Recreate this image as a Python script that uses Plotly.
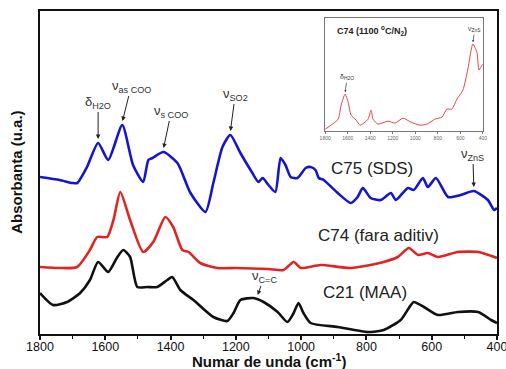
import plotly.graph_objects as go

# ---------------- data ----------------
# main panel: wavenumber (cm-1) and absorbance (a.u., offset)
wn_c75 = [1800, 1740, 1700, 1686, 1656, 1622, 1591, 1548, 1515, 1484, 1468, 1455, 1422, 1379,
          1339, 1293, 1269, 1241, 1217, 1186, 1155, 1131, 1118, 1100, 1079, 1063, 1048, 1032,
          1011, 986, 971, 956, 946, 931, 888, 848, 827, 811, 787, 756, 725, 710, 673, 655,
          627, 612, 587, 550, 511, 471, 428, 409, 400]
ab_c75 = [1.57, 1.54, 1.51, 1.51, 1.67, 1.91, 1.74, 2.09, 1.69, 1.52, 1.74, 1.76, 1.82, 1.71,
          1.41, 1.22, 1.51, 1.87, 1.99, 1.81, 1.64, 1.52, 1.56, 1.49, 1.42, 1.76, 1.69, 1.57,
          1.56, 1.66, 1.67, 1.64, 1.56, 1.54, 1.41, 1.31, 1.37, 1.46, 1.36, 1.34, 1.41, 1.34,
          1.46, 1.44, 1.56, 1.47, 1.56, 1.37, 1.39, 1.43, 1.34, 1.24, 1.26]

wn_c74 = [1800, 1740, 1686, 1647, 1625, 1594, 1575, 1554, 1524, 1484, 1453, 1416, 1392, 1364,
          1345, 1309, 1257, 1200, 1100, 1054, 1023, 1001, 940, 848, 747, 704, 670, 642, 612,
          581, 520, 458, 400]
ab_c74 = [0.67, 0.66, 0.67, 0.84, 0.97, 0.97, 1.14, 1.42, 1.14, 0.82, 0.92, 1.17, 1.07, 0.84,
          0.82, 0.71, 0.66, 0.66, 0.65, 0.64, 0.72, 0.66, 0.69, 0.66, 0.72, 0.77, 0.86, 0.79,
          0.81, 0.77, 0.82, 0.82, 0.76]

wn_c21 = [1800, 1760, 1717, 1677, 1647, 1622, 1591, 1563, 1545, 1524, 1502, 1472, 1441, 1410,
          1395, 1370, 1330, 1269, 1226, 1207, 1186, 1146, 1115, 1072, 1042, 1023, 1008, 993,
          971, 888, 796, 747, 695, 670, 655, 624, 581, 520, 458, 418, 400]
ab_c21 = [0.41, 0.29, 0.32, 0.41, 0.54, 0.72, 0.62, 0.77, 0.84, 0.77, 0.47, 0.47, 0.47, 0.54,
          0.57, 0.44, 0.34, 0.17, 0.13, 0.21, 0.34, 0.36, 0.32, 0.22, 0.12, 0.21, 0.31, 0.21,
          0.11, 0.07, 0.02, 0.04, 0.14, 0.26, 0.32, 0.27, 0.19, 0.22, 0.22, 0.14, 0.11]

# inset: C74 after 1100 C / N2
wn_ins = [1800, 1747, 1685, 1658, 1623, 1596, 1570, 1525, 1490, 1446, 1419, 1392, 1375, 1330,
          1242, 1180, 1109, 1038, 958, 896, 825, 763, 719, 675, 630, 577, 533, 489, 453, 435,
          418, 400]
ab_ins = [0.2, 0.6, 1.2, 2.6, 3.7, 2.9, 1.6, 1.1, 0.6, 0.9, 1.2, 2.1, 1.2, 0.7,
          1.0, 0.8, 1.3, 0.9, 0.6, 0.7, 1.2, 1.4, 2.2, 2.2, 3.2, 4.1, 6.2, 8.7, 7.9, 6.1,
          6.4, 6.7]

x_ticks = [1800, 1600, 1400, 1200, 1000, 800, 600, 400]
curve_names = ["C75 (SDS)", "C74 (fara aditiv)", "C21 (MAA)"]

# ---------------- figure ----------------
FONT = "Liberation Sans, Arial, sans-serif"
fig = go.Figure()

for wn, ab, col, nm in [(wn_c75, ab_c75, "#1515d0", curve_names[0]),
                        (wn_c74, ab_c74, "#e02424", curve_names[1]),
                        (wn_c21, ab_c21, "#111111", curve_names[2])]:
    fig.add_trace(go.Scatter(x=wn, y=ab, mode="lines", name=nm,
                             line=dict(color=col, width=2.6, shape="spline", smoothing=0.6),
                             xaxis="x", yaxis="y", showlegend=False))

fig.add_trace(go.Scatter(x=wn_ins, y=ab_ins, mode="lines",
                         line=dict(color="#e04848", width=1, shape="spline", smoothing=0.6),
                         xaxis="x2", yaxis="y2", showlegend=False))

ann = []
# peak assignments (arrows) in main panel
def arrow(x, y, text, ay, ax=0, size=13):
    ann.append(dict(x=x, y=y, xref="x", yref="y", text=text, showarrow=True,
                    arrowhead=2, arrowsize=0.9, arrowwidth=1, arrowcolor="#222",
                    ax=ax, ay=ay, standoff=1,
                    font=dict(family=FONT, size=size, color="#333")))

arrow(1622, 1.94, "δ<sub>H2O</sub>", -38)
arrow(1548, 2.12, "ν<sub>as COO</sub>", -36, ax=9)
arrow(1422, 1.85, "ν<sub>s COO</sub>", -38, ax=8)
arrow(1217, 2.02, "ν<sub>SO2</sub>", -38, ax=5)
arrow(471, 1.46, "ν<sub>ZnS</sub>", -34, ax=-1)
arrow(1134, 0.38, "ν<sub>C=C</sub>", -20, ax=7)

# curve labels
for x, y, t in [(784, 1.66, curve_names[0]), (762, 0.99, curve_names[1]), (805, 0.42, curve_names[2])]:
    ann.append(dict(x=x, y=y, xref="x", yref="y", text=t, showarrow=False,
                    font=dict(family=FONT, size=17, color="#222")))

# inset title and arrows
ann.append(dict(x=0.646, y=0.941, xref="paper", yref="paper", xanchor="left", yanchor="middle",
                text="<b>C74 (1100 <sup>o</sup>C/N<sub>2</sub>)</b>", showarrow=False,
                font=dict(family=FONT, size=9, color="#222")))
for x, y, t, ay in [(1623, 3.8, "δ<sub>H2O</sub>", -16), (489, 8.8, "ν<sub>ZnS</sub>", -14)]:
    ann.append(dict(x=x, y=y, xref="x2", yref="y2", text=t, showarrow=True,
                    arrowhead=2, arrowsize=0.6, arrowwidth=0.7, arrowcolor="#333",
                    ax=2, ay=ay, standoff=1, font=dict(family=FONT, size=7, color="#333")))

# axis titles
ann.append(dict(x=0.502, y=-0.083, xref="paper", yref="paper", xanchor="center", yanchor="middle",
                text="<b>Numar de unda (cm<sup>-1</sup>)</b>", showarrow=False,
                font=dict(family=FONT, size=15, color="#111")))
ann.append(dict(x=-0.052, y=0.5, xref="paper", yref="paper", xanchor="center", yanchor="middle",
                text="<b>Absorbanta (u.a.)</b>", showarrow=False, textangle=-90,
                font=dict(family=FONT, size=15, color="#111")))

fig.update_layout(
    width=506, height=369,
    margin=dict(l=40, r=9, t=11, b=35),
    paper_bgcolor="white", plot_bgcolor="white",
    font=dict(family=FONT, color="#111"),
    annotations=ann,
    xaxis=dict(domain=[0, 1], range=[1800, 400], tickvals=x_ticks, automargin=False,
               ticklabeloverflow="allow", ticklabelstandoff=-4,
               ticks="outside", ticklen=4, tickwidth=1.5, tickcolor="#111",
               minor=dict(dtick=100, ticks="outside", ticklen=3, tickwidth=1.2, tickcolor="#111"),
               showline=True, linecolor="#111", linewidth=2, mirror=True,
               showgrid=False, zeroline=False,
               tickfont=dict(size=12.5, family=FONT, color="#111")),
    yaxis=dict(domain=[0, 1], range=[0, 3.23], showticklabels=False, ticks="", automargin=False,
               showline=True, linecolor="#111", linewidth=2, mirror=True,
               showgrid=False, zeroline=False),
    xaxis2=dict(domain=[0.624, 0.969], anchor="y2", range=[1800, 400], tickvals=x_ticks,
                automargin=False,
                ticks="outside", ticklen=2, tickwidth=0.6, tickcolor="#777",
                showline=True, linecolor="#777", linewidth=1.2, mirror=True,
                showgrid=False, zeroline=False,
                tickfont=dict(size=5, family=FONT, color="#666")),
    yaxis2=dict(domain=[0.628, 0.978], anchor="x2", range=[0, 11.3], showticklabels=False,
                automargin=False,
                ticks="", showline=True, linecolor="#777", linewidth=1.2, mirror=True,
                showgrid=False, zeroline=False),
)

fig.write_html("out.html")
